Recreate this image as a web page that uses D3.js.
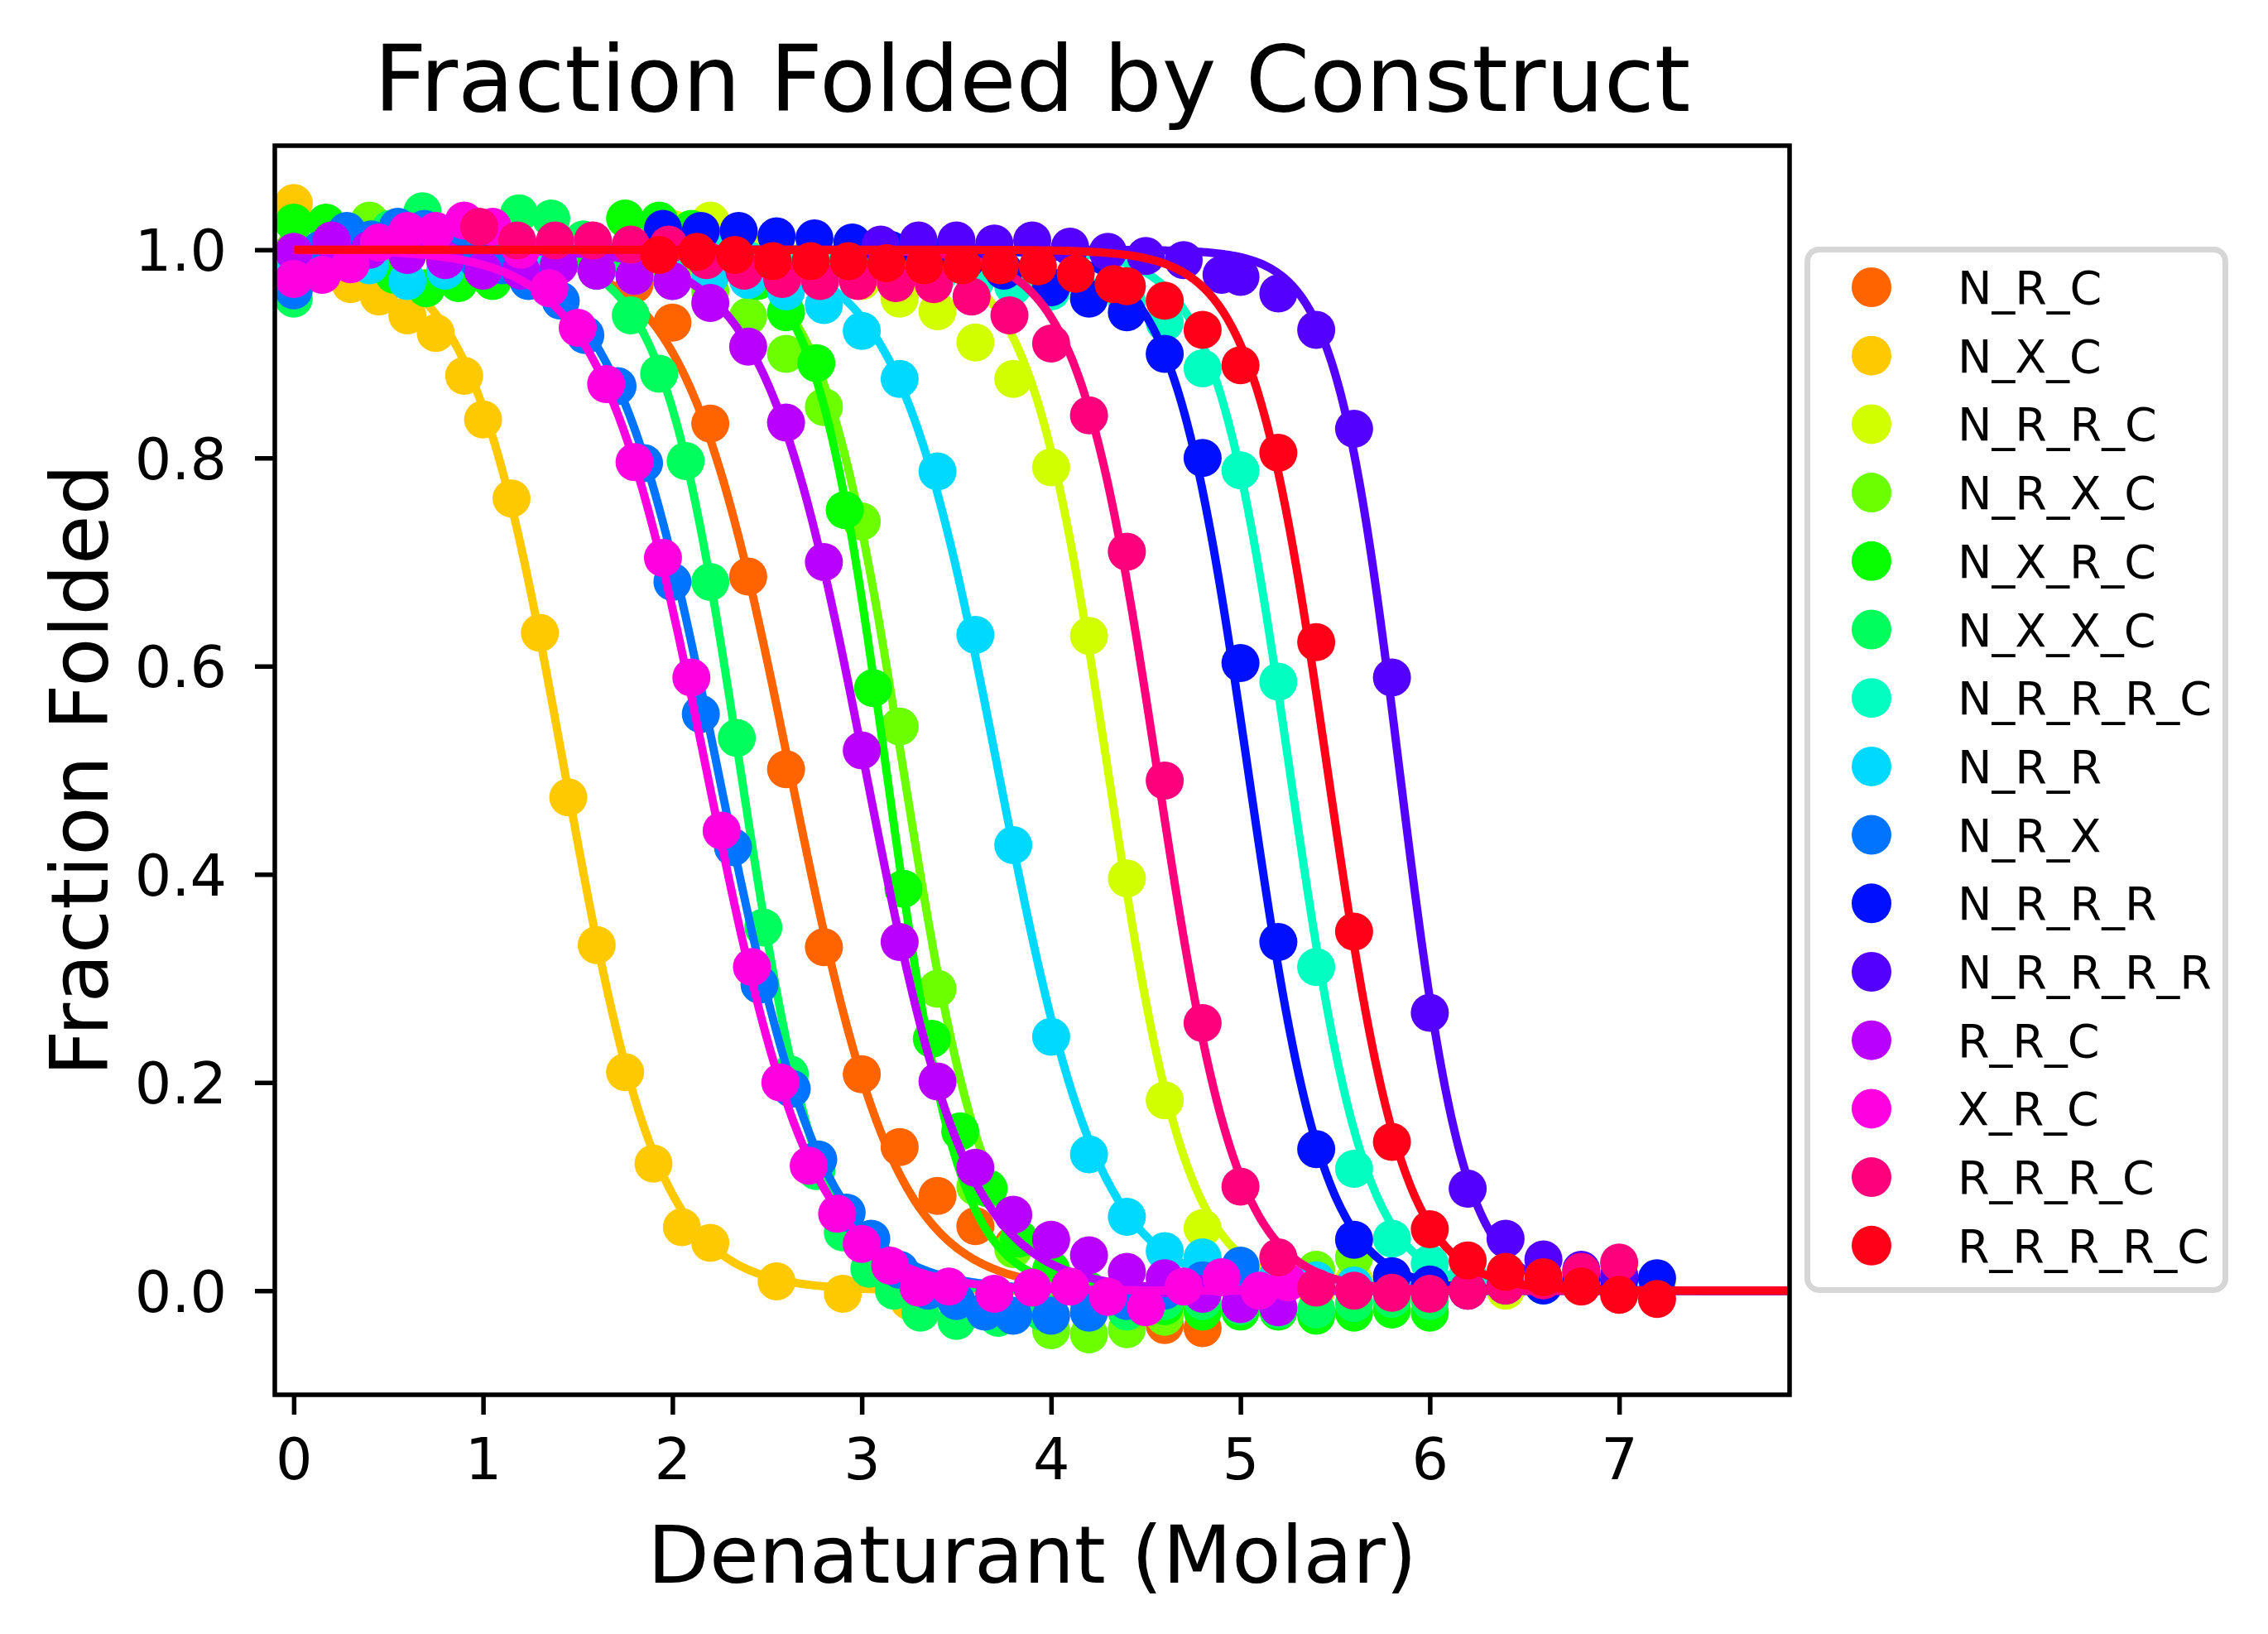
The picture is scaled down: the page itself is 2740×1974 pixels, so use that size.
<!DOCTYPE html>
<html>
<head>
<meta charset="utf-8">
<script src="https://cdn.jsdelivr.net/npm/d3@7"></script>
<style>
  html, body { margin: 0; padding: 0; background: #ffffff; }
  svg { display: block; font-family: "DejaVu Sans", sans-serif; }
</style>
</head>
<body>
<svg id="chart" width="2740" height="1974"></svg>
<script>
// ---------------- data ----------------
const seriesNames = ["N_R_C","N_X_C","N_R_R_C","N_R_X_C","N_X_R_C","N_X_X_C","N_R_R_R_C",
  "N_R_R","N_R_X","N_R_R_R","N_R_R_R_R","R_R_C","X_R_C","R_R_R_C","R_R_R_R_C"];

const seriesColors = ["#ff6400","#ffc900","#d1ff00","#6cff00","#08ff00","#00ff5c","#00ffc1",
  "#00d9ff","#0074ff","#0010ff","#5400ff","#b900ff","#ff00e1","#ff007c","#ff0018"];

const xNRC = [0,0.2,0.4,0.6,0.8,1.0,1.2,1.4,1.6,1.8,2.0,2.2,2.4,2.6,2.8,3.0,3.2,3.4,3.6,3.8,4.0,4.2,4.4,4.6,4.8];
const yNRC = [1.0,0.99,1.0,1.01,0.99,1.0,0.99,1.0,0.98,0.967,0.93,0.833,0.686,0.501,0.33,0.208,0.138,0.091,0.062,0.044,0.01,-0.01,-0.02,-0.033,-0.036];

const xNXC = [0,0.15,0.3,0.45,0.6,0.75,0.9,1.0,1.15,1.3,1.45,1.6,1.75,1.9,2.05,2.2,2.55,2.9,3.25];
const yNXC = [1.045,0.99,0.967,0.955,0.937,0.92,0.879,0.837,0.761,0.632,0.474,0.332,0.21,0.122,0.061,0.046,0.009,-0.003,-0.01];

const xNRRC = [2.0,2.2,2.4,2.6,2.8,3.0,3.2,3.4,3.6,3.8,4.0,4.2,4.4,4.6,4.8,5.0,5.2,5.4,5.6,5.8,6.0,6.2,6.4,6.6,6.8,7.0,7.2];
const yNRRC = [1.02,1.028,1.0,0.99,0.98,0.97,0.953,0.941,0.911,0.876,0.791,0.629,0.396,0.183,0.06,0.02,0.005,0.0,0.01,0.005,0.0,0.01,0.0,0.01,0.015,0.026,0.01];

const xNRXC = [0,0.2,0.4,0.6,0.8,1.0,1.2,1.4,1.6,1.8,2.0,2.2,2.4,2.6,2.8,3.0,3.2,3.4,3.6,3.8,4.0,4.2,4.4,4.6,4.8,5.0,5.2,5.4,5.6];
const yNRXC = [1.0,1.01,1.028,1.01,1.0,1.02,1.0,1.0,0.99,0.99,0.98,0.96,0.936,0.90,0.849,0.739,0.542,0.29,0.1,0.04,-0.038,-0.042,-0.037,-0.025,-0.015,0.0,0.01,0.02,0.032];

const xNXRC = [0,0.17,0.35,0.53,0.7,0.87,1.05,1.22,1.4,1.57,1.75,1.93,2.1,2.27,2.45,2.6,2.76,2.91,3.06,3.22,3.37,3.52,3.67,3.83,4.0,4.2,4.4,4.6,4.8,5.0,5.2,5.4,5.6,5.8,6.0];
const yNXRC = [1.026,1.026,1.0,0.976,0.963,0.968,0.97,0.98,0.99,1.0,1.03,1.028,1.02,1.0,0.97,0.94,0.891,0.75,0.579,0.386,0.242,0.153,0.098,0.05,0.02,0.0,-0.01,-0.015,-0.02,-0.02,-0.02,-0.024,-0.021,-0.018,-0.021];

const xNXXC = [0,0.17,0.34,0.51,0.68,0.85,1.02,1.19,1.36,1.53,1.65,1.78,1.93,2.07,2.2,2.34,2.48,2.62,2.76,2.9,3.04,3.17,3.31,3.5,3.72,3.95,4.2,4.4,4.6,4.8,5.0,5.2,5.4,5.6,5.8,6.0];
const yNXXC = [0.953,1.0,1.01,1.02,1.037,1.01,1.0,1.035,1.03,1.01,0.99,0.937,0.881,0.797,0.681,0.531,0.349,0.208,0.115,0.056,0.021,0.0,-0.021,-0.029,-0.026,-0.02,-0.015,-0.02,-0.01,-0.01,-0.015,-0.018,-0.018,-0.012,-0.008,-0.01];

const xNRRRC = [2.0,2.2,2.4,2.6,2.8,3.0,3.2,3.4,3.6,3.8,4.0,4.2,4.4,4.6,4.8,5.0,5.2,5.4,5.6,5.8,6.0,6.2,6.4,6.6,6.8,7.0,7.2];
const yNRRRC = [1.0,1.0,0.99,0.985,0.98,0.985,0.98,0.975,0.97,0.965,0.96,0.955,0.95,0.93,0.886,0.788,0.585,0.311,0.117,0.05,0.026,0.015,0.01,0.005,0.005,0.0,0.0];

const xNRR = [0,0.2,0.4,0.6,0.8,1.0,1.2,1.4,1.6,1.8,2.0,2.2,2.4,2.6,2.8,3.0,3.2,3.4,3.6,3.8,4.0,4.2,4.4,4.6,4.8,5.0,5.2,5.4,5.6,5.8,6.0];
const yNRR = [0.98,0.99,0.985,0.97,0.98,0.99,0.985,0.99,0.98,0.975,0.97,0.975,0.971,0.96,0.947,0.922,0.876,0.787,0.63,0.428,0.244,0.131,0.071,0.038,0.032,0.02,0.015,0.01,0.005,0.01,0.005];

const xNRX = [0,0.14,0.28,0.41,0.55,0.69,0.83,0.97,1.1,1.24,1.41,1.54,1.71,1.85,2.0,2.15,2.32,2.46,2.63,2.77,2.92,3.05,3.2,3.35,3.5,3.65,3.8,4.0,4.2,4.4,4.6,4.8,5.0];
const yNRX = [0.961,1.0,1.018,1.01,1.022,1.02,1.0,0.99,0.985,0.97,0.951,0.918,0.869,0.795,0.681,0.554,0.426,0.294,0.194,0.126,0.075,0.05,0.02,0.0,-0.01,-0.02,-0.024,-0.024,-0.021,-0.01,0.0,0.01,0.024];

const xNRRR = [1.95,2.15,2.35,2.55,2.75,2.95,3.15,3.35,3.55,3.75,4.0,4.2,4.4,4.6,4.8,5.0,5.2,5.4,5.6,5.8,6.0,6.2,6.4,6.6,6.8,7.0,7.2];
const yNRRR = [1.02,1.018,1.018,1.013,1.011,1.007,1.0,0.995,0.99,0.98,0.964,0.953,0.94,0.90,0.80,0.603,0.335,0.136,0.049,0.014,0.006,0.0,0.005,0.005,0.01,0.01,0.012];

const xNRRRR = [3.1,3.3,3.5,3.7,3.9,4.1,4.3,4.5,4.7,4.9,5.0,5.2,5.4,5.6,5.8,6.0,6.2,6.4,6.6,6.8,7.0];
const yNRRRR = [1.005,1.009,1.009,1.006,1.009,1.003,0.998,0.994,0.99,0.976,0.974,0.958,0.923,0.828,0.589,0.267,0.098,0.05,0.03,0.02,0.015];

const xRRC = [0,0.2,0.4,0.6,0.8,1.0,1.2,1.4,1.6,1.8,2.0,2.2,2.4,2.6,2.8,3.0,3.2,3.4,3.6,3.8,4.0,4.2,4.4,4.6,4.8,5.0,5.2];
const yRRC = [0.998,1.009,1.0,0.995,0.99,0.98,0.98,0.985,0.98,0.975,0.97,0.949,0.907,0.834,0.70,0.519,0.335,0.201,0.118,0.073,0.049,0.034,0.018,0.012,-0.003,-0.013,-0.016];

const xXRC = [0,0.15,0.3,0.45,0.6,0.75,0.9,1.05,1.2,1.35,1.5,1.65,1.8,1.95,2.1,2.26,2.42,2.57,2.72,2.87,3.0,3.15,3.3,3.46,3.7,3.9,4.1,4.3,4.5,4.7,4.9,5.1,5.25];
const yXRC = [0.972,0.976,0.986,1.007,1.018,1.018,1.028,1.022,1.0,0.963,0.925,0.871,0.796,0.704,0.589,0.442,0.311,0.2,0.12,0.074,0.045,0.024,0.003,0.004,-0.003,0.003,0.004,-0.006,-0.016,0.004,0.013,0.0,0.008];

const xRRRC = [0.98,1.18,1.38,1.58,1.78,1.98,2.18,2.38,2.58,2.78,2.98,3.18,3.38,3.58,3.78,4.0,4.2,4.4,4.6,4.8,5.0,5.2,5.4,5.6,5.8,6.0,6.2,6.4,6.6,6.8,7.0];
const yRRRC = [1.022,1.009,1.009,1.009,1.005,1.005,0.99,0.98,0.972,0.97,0.97,0.968,0.967,0.955,0.937,0.91,0.841,0.71,0.49,0.257,0.10,0.032,0.003,0.0,-0.002,-0.003,0.0,0.005,0.01,0.018,0.027];

const xRRRRC = [1.93,2.13,2.33,2.53,2.73,2.93,3.13,3.33,3.53,3.73,3.93,4.13,4.33,4.4,4.6,4.8,5.0,5.2,5.4,5.6,5.8,6.0,6.2,6.4,6.6,6.8,7.0,7.2];
const yRRRRC = [0.995,0.998,0.995,0.989,0.989,0.989,0.987,0.985,0.985,0.985,0.984,0.977,0.967,0.965,0.951,0.923,0.889,0.805,0.623,0.345,0.143,0.059,0.029,0.018,0.013,0.004,-0.004,-0.008];

// fitted two-state curve parameters (midpoint and width, Molar)
const fitMidpoints = [2.62,1.43,4.30,3.22,3.13,2.36,5.26,3.72,2.24,5.04,5.84,3.02,2.18,4.56,5.46];
const fitWidths    = [0.28,0.25,0.21,0.22,0.19,0.21,0.20,0.27,0.28,0.20,0.17,0.27,0.28,0.21,0.20];

const xTicks = [0,1,2,3,4,5,6,7];
const yTicks = [0.0,0.2,0.4,0.6,0.8,1.0];

const xSeries = [xNRC,xNXC,xNRRC,xNRXC,xNXRC,xNXXC,xNRRRC,xNRR,xNRX,xNRRR,xNRRRR,xRRC,xXRC,xRRRC,xRRRRC];
const ySeries = [yNRC,yNXC,yNRRC,yNRXC,yNXRC,yNXXC,yNRRRC,yNRR,yNRX,yNRRR,yNRRRR,yRRC,yXRC,yRRRC,yRRRRC];

// ---------------- layout ----------------
const L = 332, R = 2162, T = 176, B = 1685;
const svg = d3.select("#chart");
svg.append("rect").attr("width", 2740).attr("height", 1974).attr("fill", "#ffffff");

const x = d3.scaleLinear().domain([-0.1, 7.9]).range([L, R]);
const y = d3.scaleLinear().domain([-0.1, 1.1]).range([B, T]);

svg.append("defs").append("clipPath").attr("id", "plotclip")
  .append("rect").attr("x", L).attr("y", T).attr("width", R - L).attr("height", B - T);

const plot = svg.append("g").attr("clip-path", "url(#plotclip)");
const curveX = d3.range(0, 8.0001, 0.01);
const line = d3.line().x(d => x(d[0])).y(d => y(d[1]));

seriesNames.forEach((name, i) => {
  const fit = curveX.map(v => [v, 1 / (1 + Math.exp((v - fitMidpoints[i]) / fitWidths[i]))]);
  plot.append("path").datum(fit)
    .attr("d", line).attr("fill", "none")
    .attr("stroke", seriesColors[i]).attr("stroke-width", 10)
    .attr("stroke-linejoin", "round");
  const pts = xSeries[i].map((v, k) => [v, ySeries[i][k]]);
  plot.append("g").selectAll("circle").data(pts).join("circle")
    .attr("cx", d => x(d[0])).attr("cy", d => y(d[1])).attr("r", 23)
    .attr("fill", seriesColors[i]);
});

// frame
svg.append("rect").attr("x", L).attr("y", T).attr("width", R - L).attr("height", B - T)
  .attr("fill", "none").attr("stroke", "#000").attr("stroke-width", 5.5);

// axes
const xAxis = svg.append("g").attr("transform", `translate(0,${B})`)
  .call(d3.axisBottom(x).tickValues(xTicks).tickSize(24).tickPadding(0).tickFormat(d3.format("d")));
xAxis.select(".domain").remove();
xAxis.selectAll(".tick line").attr("stroke", "#000").attr("stroke-width", 5.5);
xAxis.selectAll(".tick text").attr("y", 102).attr("dy", null)
  .attr("font-size", 70).attr("fill", "#000").attr("font-family", "DejaVu Sans");

const yAxis = svg.append("g").attr("transform", `translate(${L},0)`)
  .call(d3.axisLeft(y).tickValues(yTicks).tickSize(24).tickPadding(0).tickFormat(d3.format(".1f")));
yAxis.select(".domain").remove();
yAxis.selectAll(".tick line").attr("stroke", "#000").attr("stroke-width", 5.5);
yAxis.selectAll(".tick text").attr("x", -58).attr("dy", "0.36em")
  .attr("font-size", 70).attr("fill", "#000").attr("font-family", "DejaVu Sans");

// title and labels
svg.append("text").attr("x", (L + R) / 2).attr("y", 134).attr("text-anchor", "middle")
  .attr("font-size", 111).attr("fill", "#000").text("Fraction Folded by Construct");
svg.append("text").attr("x", (L + R) / 2).attr("y", 1912).attr("text-anchor", "middle")
  .attr("font-size", 97).attr("fill", "#000").text("Denaturant (Molar)");
svg.append("text").attr("transform", `translate(130,${(T + B) / 2}) rotate(-90)`)
  .attr("text-anchor", "middle").attr("font-size", 97).attr("fill", "#000").text("Fraction Folded");

// legend
const lg = svg.append("g");
lg.append("rect").attr("x", 2183.5).attr("y", 301.5).attr("width", 505).attr("height", 1257)
  .attr("rx", 14).attr("fill", "#ffffff").attr("stroke", "#d6d6d6").attr("stroke-width", 7);
seriesNames.forEach((name, i) => {
  const cy = 347 + i * 82.7;
  lg.append("circle").attr("cx", 2261).attr("cy", cy).attr("r", 24).attr("fill", seriesColors[i]);
  lg.append("text").attr("x", 2365).attr("y", cy + 20).attr("font-size", 55.5)
    .attr("fill", "#000").text(name);
});
</script>
</body>
</html>
